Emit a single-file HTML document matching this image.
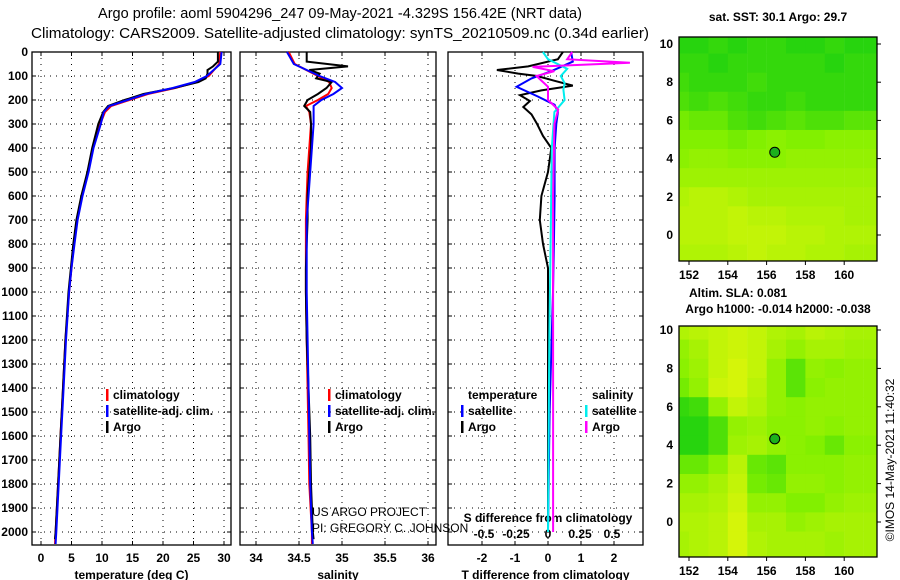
<!DOCTYPE html>
<html><head><meta charset="utf-8"><style>
body{margin:0;background:#fff;}
svg{display:block;font-family:"Liberation Sans",sans-serif;}
.b{font-weight:bold;font-size:12px;}
</style></head><body>
<svg id="c" width="900" height="580" xmlns="http://www.w3.org/2000/svg">
<text x="340" y="18" text-anchor="middle" font-size="14.5">Argo profile: aoml 5904296_247 09-May-2021 -4.329S 156.42E (NRT data)</text>
<text x="340" y="38" text-anchor="middle" font-size="14.5" textLength="618" lengthAdjust="spacingAndGlyphs">Climatology: CARS2009. Satellite-adjusted climatology: synTS_20210509.nc (0.34d earlier)</text>
<text x="778" y="21" text-anchor="middle" class="b">sat. SST: 30.1 Argo: 29.7</text>
<text x="738" y="297" text-anchor="middle" class="b">Altim. SLA: 0.081</text>
<text x="778" y="313" text-anchor="middle" class="b">Argo h1000: -0.014 h2000: -0.038</text>
<text transform="translate(894,460) rotate(-90)" text-anchor="middle" font-size="12">©IMOS 14-May-2021 11:40:32</text>
<text x="312" y="516" font-size="12">US ARGO PROJECT</text>
<text x="312" y="532" font-size="12">PI: GREGORY C. JOHNSON</text>
<g id="g"></g>
</svg>
<script>
// ---- data ----
const depthTicks=[0,100,200,300,400,500,600,700,800,900,1000,1100,1200,1300,1400,1500,1600,1700,1800,1900,2000];
const tTicks=[0,5,10,15,20,25,30];
const sTicks=[34,34.5,35,35.5,36];
const dtTicks=[-2,-1,0,1,2];
const dsTicks=[-0.5,-0.25,0,0.25,0.5];
const lonTicks=[152,154,156,158,160];
const latTicks=[0,2,4,6,8,10];
const climDepth=[0,50,100,125,150,175,200,225,250,300,400,500,600,700,800,900,1000,1200,1400,1600,1800,2000,2050];
const climTemp=[29.4,29.2,27.5,25.5,22,17.5,14.5,11.5,10.5,9.7,8.5,7.7,6.7,5.9,5.4,5.0,4.6,4.0,3.6,3.2,2.8,2.4,2.3];
const satTemp=[29.6,29.4,27.2,25.2,21.6,17.2,14.2,11.2,10.3,9.8,8.6,7.8,6.8,6.0,5.5,5.0,4.6,4.1,3.7,3.3,2.9,2.5,2.4];
const argoDepth=[0,40,60,75,90,110,125,150,175,200,225,250,300,400,500,600,700,800,900,1000,1200,1400,1600,1800,2000,2030];
const argoTemp=[29.0,29.0,28.2,27.3,27.3,27.0,25.8,21.8,16.8,13.7,11.0,10.2,9.4,8.4,7.6,6.6,5.8,5.3,4.9,4.5,4.0,3.6,3.2,2.8,2.4,2.3];
const climSal=[34.38,34.45,34.72,34.85,34.88,34.84,34.72,34.58,34.62,34.64,34.62,34.60,34.59,34.58,34.58,34.58,34.58,34.59,34.60,34.61,34.62,34.65,34.65];
const satSal=[34.36,34.44,34.74,34.92,35.0,34.9,34.76,34.67,34.67,34.67,34.65,34.63,34.61,34.59,34.59,34.59,34.59,34.60,34.61,34.62,34.63,34.65,34.66];
const argoSal=[34.59,34.59,35.07,34.62,34.74,34.7,34.88,34.82,34.72,34.6,34.56,34.63,34.64,34.64,34.62,34.6,34.60,34.59,34.58,34.58,34.59,34.61,34.63,34.64,34.66,34.67];
const dtSatDepth=[0,40,80,110,145,186,220,250,300,400,600,800,1000,1500,2000];
const dtSat=[0.7,0.75,0.1,-0.5,-0.95,-0.3,0.2,0.3,0.25,0.2,0.2,0.18,0.15,0.05,0.0];
const dtArgoDepth=[0,30,60,75,90,100,120,140,160,180,204,229,260,300,350,400,500,600,700,800,900,1000,1500,2000];
const dtArgo=[0.45,0.3,-0.6,-1.55,-0.9,-0.33,0.2,0.75,-0.2,-0.85,-0.55,-0.75,-0.5,-0.33,-0.15,0.1,0.0,-0.2,-0.25,-0.15,0.0,0.0,0.0,0.0];
const dsSatDepth=[0,30,70,100,130,157,200,250,400,800,1200,2000];
const dsSat=[-0.04,0.0,0.15,0.1,0.13,0.12,0.13,0.05,0.03,0.02,0.01,0.0];
const dsArgoDepth=[0,30,45,62,80,100,145,200,240,300,600,1000,2000];
const dsArgo=[0.19,0.15,0.64,-0.12,0.05,-0.09,0.0,0.0,0.08,0.05,0.04,0.04,0.04];
const mapLons=[151.5,152.5,153.5,154.5,155.5,156.5,157.5,158.5,159.5,160.5,161.5];
const mapLats=[10,9,8,7,6,5,4,3,2,1,0,-1,-2];
const sstVals=[
[.15,.15,.2,.15,.2,.2,.15,.15,.2,.15,.15],
[.2,.2,.15,.2,.2,.2,.2,.2,.15,.2,.2],
[.25,.2,.2,.2,.25,.2,.2,.2,.2,.2,.2],
[.3,.25,.3,.25,.2,.2,.25,.2,.2,.2,.2],
[.45,.4,.4,.3,.25,.3,.35,.3,.3,.35,.35],
[.5,.5,.5,.45,.5,.55,.5,.5,.55,.55,.55],
[.55,.6,.6,.55,.55,.55,.6,.6,.6,.6,.6],
[.65,.65,.65,.65,.65,.65,.65,.65,.65,.65,.65],
[.75,.8,.8,.75,.7,.7,.7,.7,.7,.7,.7],
[.8,.8,.8,.85,.8,.8,.75,.75,.75,.7,.7],
[.8,.8,.8,.85,.85,.85,.8,.8,.75,.75,.75],
[.75,.75,.75,.8,.85,.8,.8,.75,.75,.7,.7],
[.7,.7,.7,.75,.75,.75,.7,.7,.7,.7,.7]];
const slaVals=[
[.75,.8,.85,.9,.85,.75,.7,.8,.75,.7,.7],
[.6,.7,.85,.9,.85,.7,.6,.7,.7,.65,.65],
[.55,.65,.85,.95,.85,.6,.35,.6,.55,.6,.6],
[.45,.6,.9,.95,.8,.6,.35,.55,.6,.6,.6],
[.2,.25,.6,.85,.75,.6,.55,.6,.6,.6,.6],
[.15,.15,.3,.6,.65,.55,.55,.6,.55,.6,.6],
[.15,.15,.3,.65,.7,.6,.55,.5,.4,.55,.55],
[.4,.4,.55,.8,.4,.35,.55,.55,.55,.6,.6],
[.6,.6,.7,.85,.45,.4,.6,.6,.55,.6,.6],
[.7,.7,.75,.9,.6,.6,.5,.5,.6,.65,.65],
[.75,.75,.8,.95,.7,.7,.6,.65,.7,.7,.7],
[.7,.75,.8,.95,.75,.7,.7,.7,.65,.7,.7],
[.7,.75,.8,.95,.75,.7,.7,.7,.65,.7,.7]];
const floatLon=156.42, floatLat=4.33;

// ---- helpers ----
const NS='http://www.w3.org/2000/svg';
const G=document.getElementById('g');
function mk(tag,attrs,parent){const e=document.createElementNS(NS,tag);for(const k in attrs)e.setAttribute(k,attrs[k]);(parent||G).appendChild(e);return e;}
const yD=d=>52+d*0.24;
const xT=t=>41+t*6.1;
const xS=s=>256+(s-34)*86;
const xDT=v=>548+v*33;
const xDS=v=>548+v*128;
const panels=[{x0:32,x1:231,sc:xT,ticks:tTicks,title:'temperature (deg C)',name:'temperature-panel'},
{x0:240,x1:436,sc:xS,ticks:sTicks,title:'salinity',name:'salinity-panel'},
{x0:448,x1:643,sc:xDT,ticks:dtTicks,title:'T difference from climatology',name:'difference-panel'}];
const Y0=52,Y1=545;
panels.forEach((p,pi)=>{
  const g=mk('g',{});
  
  
  depthTicks.forEach(d=>{const l=mk('line',{x1:p.x0,x2:p.x1,y1:yD(d),y2:yD(d),stroke:'#000','stroke-width':1,'stroke-dasharray':'1,5'},g);
    
    mk('line',{x1:p.x0,x2:p.x0+4,y1:yD(d),y2:yD(d),stroke:'#000'},g);mk('line',{x1:p.x1-4,x2:p.x1,y1:yD(d),y2:yD(d),stroke:'#000'},g);});
  p.ticks.forEach(t=>{const x=p.sc(t);const l=mk('line',{x1:x,x2:x,y1:Y0,y2:Y1,stroke:'#000','stroke-dasharray':'1,5'},g);
    
    mk('line',{x1:x,x2:x,y1:Y0,y2:Y0+4,stroke:'#000'},g);mk('line',{x1:x,x2:x,y1:Y1-4,y2:Y1,stroke:'#000'},g);
    const tx=mk('text',{x:x,y:562,'text-anchor':'middle',class:'b'},g);tx.textContent=t;
    });
  const tt=mk('text',{x:(p.x0+p.x1)/2,y:579,'text-anchor':'middle',class:'b'},g);tt.textContent=p.title;
  
  const r=mk('rect',{x:p.x0,y:Y0,width:p.x1-p.x0,height:Y1-Y0,fill:'none',stroke:'#000','stroke-width':1.3},g);
  
});
depthTicks.forEach(d=>{const t=mk('text',{x:28,y:yD(d)+4,'text-anchor':'end',class:'b'});t.textContent=d;
  });
dsTicks.forEach(v=>{const t=mk('text',{x:xDS(v),y:538,'text-anchor':'middle',class:'b'});t.textContent=v;
  });
{const t=mk('text',{x:548,y:522,'text-anchor':'middle',class:'b'});t.textContent='S difference from climatology';
 }
function line(depths,vals,sc,color,name){
  const pts=depths.map((d,i)=>sc(vals[i]).toFixed(1)+','+yD(d).toFixed(1)).join(' ');
  const l=mk('polyline',{points:pts,fill:'none',stroke:color,'stroke-width':2});
  
}
line(climDepth,climTemp,xT,'#f00','temp-climatology-line');
line(argoDepth,argoTemp,xT,'#000','temp-argo-line');
line(climDepth,satTemp,xT,'#00f','temp-satellite-line');
line(climDepth,climSal,xS,'#f00','sal-climatology-line');
line(argoDepth,argoSal,xS,'#000','sal-argo-line');
line(climDepth,satSal,xS,'#00f','sal-satellite-line');
line(dtArgoDepth,dtArgo,xDT,'#000','tdiff-argo-line');
line(dtSatDepth,dtSat,xDT,'#00f','tdiff-satellite-line');
line(dsSatDepth,dsSat,xDS,'#0ee','sdiff-satellite-line');
line(dsArgoDepth,dsArgo,xDS,'#f0f','sdiff-argo-line');
function leg(x,y,color,label,name){
  mk('rect',{x:x,y:y-10,width:2.5,height:12,fill:color});
  const t=mk('text',{x:x+7,y:y,class:'b'});t.textContent=label;
  
}
leg(106,399,'#f00','climatology','legend-climatology');
leg(106,415,'#00f','satellite-adj. clim.','legend-satellite-adj');
leg(106,431,'#000','Argo','legend-argo');
leg(328,399,'#f00','climatology','legend-climatology-sal');
leg(328,415,'#00f','satellite-adj. clim.','legend-satellite-adj-sal');
leg(328,431,'#000','Argo','legend-argo-sal');
{const t=mk('text',{x:468,y:399,class:'b'});t.textContent='temperature';}
{const t=mk('text',{x:592,y:399,class:'b'});t.textContent='salinity';}
leg(461,415,'#00f','satellite','legend-t-satellite');
leg(461,431,'#000','Argo','legend-t-argo');
leg(585,415,'#0ee','satellite','legend-s-satellite');
leg(585,431,'#f0f','Argo','legend-s-argo');

// ---- maps ----
function col(v){const a=[0,200,20],b=[130,240,0],c=[222,245,10];let p,q,t;
 if(v<0.5){p=a;q=b;t=v/0.5;}else{p=b;q=c;t=(v-0.5)/0.5;}
 return 'rgb('+p.map((x,i)=>Math.round(x+(q[i]-x)*t)).join(',')+')';}
function map(top,bot,latY,vals,name){
  const x0=679,x1=877;const xL=l=>689+(l-152)*19.4;
  const g=mk('g',{});
  const cid='clip'+name;const cp=mk('clipPath',{id:cid},g);mk('rect',{x:x0,y:top,width:x1-x0,height:bot-top},cp);
  const cg=mk('g',{'clip-path':'url(#'+cid+')'},g);
  mapLats.forEach((la,i)=>mapLons.forEach((lo,j)=>{
    const r=mk('rect',{x:xL(lo-0.5),y:latY(la+0.5),width:19.6,height:latY(la-0.5)-latY(la+0.5)+0.4,fill:col(vals[i][j])},cg);
    }));
  const c=mk('circle',{cx:xL(floatLon),cy:latY(floatLat),r:5,fill:'#1cb01c',stroke:'#000'},g);
  
  mk('rect',{x:x0,y:top,width:x1-x0,height:bot-top,fill:'none',stroke:'#000','stroke-width':1.3},g);
  lonTicks.forEach(l=>{mk('line',{x1:xL(l),x2:xL(l),y1:bot,y2:bot+4,stroke:'#000'},g);
    const t=mk('text',{x:xL(l),y:bot+18,'text-anchor':'middle',class:'b'},g);t.textContent=l;
    });
  latTicks.forEach(l=>{mk('line',{x1:x1,x2:x1+4,y1:latY(l),y2:latY(l),stroke:'#000'},g);
    const t=mk('text',{x:x0-6,y:latY(l)+4,'text-anchor':'end',class:'b'},g);t.textContent=l;
    });
}
map(37,261,la=>235-la*19.1,sstVals,'sst-map');
map(326,557,la=>522-la*19.2,slaVals,'sla-map');
</script>
</body></html>
